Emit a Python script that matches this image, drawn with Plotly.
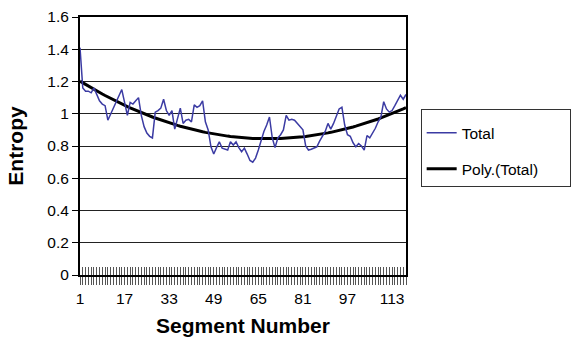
import numpy as np
import plotly.graph_objects as go

# Entropy per segment
segments = list(range(1, 119))
total = [
    1.41, 1.16, 1.14, 1.14, 1.13, 1.16, 1.12, 1.08, 1.06, 1.05,
    0.96, 1.00, 1.04, 1.075, 1.11, 1.15, 1.07, 0.99, 1.07, 1.06,
    1.08, 1.10, 0.99, 0.92, 0.88, 0.86, 0.85, 1.01, 1.02, 1.035,
    1.09, 1.02, 0.99, 1.02, 0.905, 0.97, 1.035, 0.94, 0.96, 0.965,
    0.95, 1.055, 1.04, 1.05, 1.08, 0.95, 0.90, 0.795, 0.75, 0.79,
    0.826, 0.787, 0.78, 0.775, 0.826, 0.806, 0.826, 0.79, 0.765, 0.787,
    0.75, 0.71, 0.70, 0.725, 0.775, 0.837, 0.89, 0.93, 0.98, 0.85,
    0.79, 0.85, 0.87, 0.90, 0.99, 0.96, 0.965, 0.96, 0.94, 0.92,
    0.90, 0.80, 0.775, 0.78, 0.787, 0.795, 0.83, 0.857, 0.89, 0.94,
    0.905, 0.94, 0.99, 1.03, 1.04, 0.93, 0.87, 0.86, 0.82, 0.795,
    0.815, 0.80, 0.775, 0.865, 0.85, 0.88, 0.91, 0.95, 0.98, 1.075,
    1.03, 1.01, 1.02, 1.05, 1.08, 1.115, 1.09, 1.12,
]
label_every = 16
y_ticks = [0, 0.2, 0.4, 0.6, 0.8, 1.0, 1.2, 1.4, 1.6]

# Second-order polynomial trendline fitted to the series
coef = np.polyfit(segments, total, 2)
poly = np.polyval(coef, segments)

FONT = "Liberation Sans, Arial, sans-serif"
xr = [1, len(segments)]
PAD = "\u00a0" * 6  # widens the legend box past the right edge

fig = go.Figure()
fig.add_trace(go.Scatter(
    x=segments, y=total, mode="lines", name="Total",
    line=dict(color="#3b3ba3", width=1.5), xaxis="x2", legendgroup="a",
))
fig.add_trace(go.Scatter(
    x=segments, y=poly, mode="lines", name="Poly.(Total)" + PAD,
    line=dict(color="#000000", width=3), legendgroup="b",
))

tick_text = [str(s) if (s - 1) % label_every == 0 else "" for s in segments]

fig.update_layout(
    width=572, height=342,
    margin=dict(l=80, r=166, t=17, b=67, autoexpand=False),
    paper_bgcolor="white", plot_bgcolor="white",
    font=dict(family=FONT, size=15, color="black"),
    showlegend=True,
    legend=dict(
        x=1.045, y=0.645, xanchor="left", yanchor="top",
        bordercolor="#333333", borderwidth=1,
        font=dict(size=15.5), tracegroupgap=13,
        itemwidth=30,
        title=dict(text=" ", font=dict(size=5)),
    ),
    xaxis=dict(
        range=xr, tickmode="array", tickvals=segments, ticktext=tick_text,
        ticks="outside", ticklen=8, tickwidth=1, tickcolor="#555555",
        showgrid=False, zeroline=False,
        showline=True, linecolor="black", linewidth=2, mirror=True,
        tickfont=dict(size=15.5),
        title=dict(text="<b>Segment Number</b>", font=dict(size=21), standoff=13),
    ),
    xaxis2=dict(
        range=xr, overlaying="x", tickmode="array", tickvals=segments,
        ticks="inside", ticklen=8, tickwidth=1, tickcolor="#555555",
        showticklabels=False, showgrid=False, zeroline=False, showline=False,
        side="bottom", anchor="y",
    ),
    yaxis=dict(
        range=[0, 1.6], tickmode="array", tickvals=y_ticks,
        ticktext=[f"{v:g}" for v in y_ticks],
        ticks="outside", ticklen=6, tickcolor="black",
        showgrid=True, gridcolor="#222222", gridwidth=1, zeroline=False,
        showline=True, linecolor="black", linewidth=2, mirror=True,
        tickfont=dict(size=15.5),
        title=dict(text="<b>Entropy</b>", font=dict(size=21), standoff=18),
    ),
)

fig.write_html("out.html")
